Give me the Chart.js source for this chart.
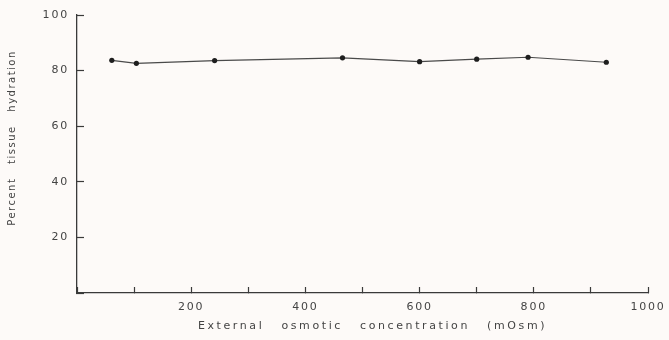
<!DOCTYPE html>
<html>
<head>
<meta charset="utf-8">
<script src="https://cdn.jsdelivr.net/npm/chart.js@4"></script>
<style>
  html, body { margin: 0; padding: 0; background: #fdfaf8; }
  #wrap { width: 669px; height: 340px; }
</style>
</head>
<body>
<div id="wrap"><canvas id="c" width="669" height="340"></canvas></div>
<script>
const osmolality = [61, 104, 241, 465, 600, 700, 790, 927];
const hydration = [83.7, 82.6, 83.6, 84.6, 83.2, 84.1, 84.8, 83.0];
const xLabelValues = [200, 400, 600, 800, 1000];
const yLabelValues = [20, 40, 60, 80, 100];
const xTitle = 'External osmotic concentration (mOsm)';
const yTitle = 'Percent tissue hydration';

const ink = '#3a3a3a';

const titleStyle = {
  x: { ls: '2.6px', ws: '11px', dx: 10, dy: 0 },
  y: { ls: '1.5px', ws: '9px', dx: 0, dy: -16 }
};

const spacingPlugin = {
  id: 'spacing',
  beforeDraw(chart) {
    const ctx = chart.ctx;
    ctx.letterSpacing = '1.8px';
    ctx.wordSpacing = '0px';
    Object.values(chart.scales).forEach(s => {
      if (s._wrappedTitle) return;
      const orig = s.drawTitle;
      const st = titleStyle[s.id];
      s.drawTitle = function () {
        const c = this.ctx;
        c.save();
        c.letterSpacing = st.ls;
        c.wordSpacing = st.ws;
        c.translate(st.dx, st.dy);
        orig.apply(this, arguments);
        c.restore();
      };
      s._wrappedTitle = true;
    });
  }
};

new Chart(document.getElementById('c'), {
  type: 'scatter',
  data: {
    datasets: [{
      data: osmolality.map((x, i) => ({ x: x, y: hydration[i] })),
      showLine: true,
      borderColor: '#4a4a4a',
      borderWidth: 1.2,
      pointRadius: 2.6,
      pointBackgroundColor: '#1e1e1e',
      pointBorderColor: '#1e1e1e',
      pointBorderWidth: 0
    }]
  },
  options: {
    responsive: false,
    animation: false,
    events: [],
    layout: { padding: { top: 15, right: 21, left: 0, bottom: 0 } },
    plugins: { legend: { display: false }, tooltip: { enabled: false } },
    scales: {
      x: {
        type: 'linear',
        min: 0, max: 1000,
        border: { color: ink, width: 1.3 },
        grid: { drawOnChartArea: false, tickLength: -6, tickColor: ink, tickWidth: 1.2 },
        ticks: {
          stepSize: 100,
          color: '#444',
          font: { family: 'DejaVu Sans', size: 11 },
          padding: 14,
          maxRotation: 0,
          autoSkip: false,
          callback: v => xLabelValues.includes(v) ? String(v) : ''
        },
        title: {
          display: true, text: xTitle, color: '#444',
          font: { family: 'DejaVu Sans', size: 11 },
          padding: { top: 0, bottom: 7 }
        },
        afterFit: s => { s.height = 47; s.paddingLeft = 0; s.paddingRight = 0; }
      },
      y: {
        type: 'linear',
        min: 0, max: 100,
        border: { color: ink, width: 1.3 },
        grid: { drawOnChartArea: false, tickLength: -7, tickColor: ink, tickWidth: 1.2 },
        ticks: {
          stepSize: 20,
          color: '#444',
          font: { family: 'DejaVu Sans', size: 11 },
          padding: 15,
          autoSkip: false,
          callback: v => yLabelValues.includes(v) ? String(v) : ''
        },
        title: {
          display: true, text: yTitle, color: '#444',
          font: { family: 'DejaVu Sans', size: 10 },
          padding: { top: 6, bottom: 0 }
        },
        afterFit: s => { s.width = 77; s.paddingTop = 0; s.paddingBottom = 0; }
      }
    }
  },
  plugins: [spacingPlugin]
});
</script>
</body>
</html>
